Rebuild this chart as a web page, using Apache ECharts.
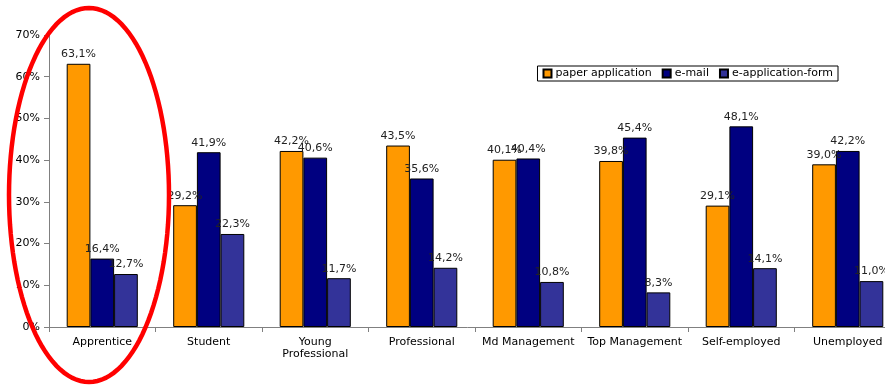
<!DOCTYPE html>
<html><head><meta charset="utf-8">
<script src="https://cdn.jsdelivr.net/npm/echarts@6/dist/echarts.min.js"></script>
<style>html,body{margin:0;padding:0;background:#fff}#c{width:885px;height:387px}</style>
</head><body><div id="c"></div>
<script>
const categories = ['Apprentice','Student','Young\nProfessional','Professional','Md Management','Top Management','Self-employed','Unemployed'];
const seriesNames = ['paper application','e-mail','e-application-form'];
const paper = [63.1, 29.2, 42.2, 43.5, 40.1, 39.8, 29.1, 39.0];
const email = [16.4, 41.9, 40.6, 35.6, 40.4, 45.4, 48.1, 42.2];
const eform = [12.7, 22.3, 11.7, 14.2, 10.8, 8.3, 14.1, 11.0];
const yTicks = [0, 10, 20, 30, 40, 50, 60, 70];
const colors = ['#FF9900', '#000080', '#333399'];

const font = 'DejaVu Sans, Verdana, sans-serif';
const chart = echarts.init(document.getElementById('c'));
function fmt(v){ return v.toFixed(1).replace('.', ',') + '%'; }

// annotation ellipse points
const ell = [];
for (let i = 0; i < 120; i++) {
  const t = i / 120 * Math.PI * 2;
  ell.push([89 + 80 * Math.cos(t), 195 + 187 * Math.sin(t)]);
}

const mk = (name, data, color) => ({
  name, type: 'bar', data,
  barWidth: 23.7, barGap: '0%',
  itemStyle: { color, borderColor: '#000', borderWidth: 1 },
  label: { show: true, position: 'top', distance: 4, color: '#222', fontFamily: font, fontSize: 11,
           formatter: p => fmt(p.value) },
  emphasis: { disabled: true }
});

chart.setOption({
  animation: false,
  backgroundColor: '#fff',
  textStyle: { fontFamily: font },
  legend: {
    right: 47, top: 66, itemWidth: 8, itemHeight: 8, itemGap: 10,
    borderColor: '#000', borderWidth: 1, padding: [2, 5, 2, 5],
    textStyle: { fontFamily: font, fontSize: 11, color: '#000', padding: [0, 0, 0, -1] },
    data: seriesNames, icon: 'rect'
  },
  grid: { left: 49, top: 35, bottom: 60, right: -16, containLabel: false, outerBoundsMode: 'none' },
  xAxis: {
    type: 'category', data: categories,
    axisLine: { lineStyle: { color: '#808080', width: 1 } },
    axisTick: { show: true, length: 5, lineStyle: { color: '#808080' } },
    axisLabel: { color: '#000', fontFamily: font, fontSize: 11, margin: 9, interval: 0, lineHeight: 12 }
  },
  yAxis: {
    type: 'value', min: yTicks[0], max: yTicks[yTicks.length - 1], interval: 10,
    axisLine: { show: true, lineStyle: { color: '#808080', width: 1 } },
    axisTick: { show: true, length: 5, lineStyle: { color: '#808080' } },
    splitLine: { show: false },
    axisLabel: { color: '#000', fontFamily: font, fontSize: 11, margin: 9, formatter: '{value}%' }
  },
  series: [mk(seriesNames[0], paper, colors[0]), mk(seriesNames[1], email, colors[1]), mk(seriesNames[2], eform, colors[2])],
  graphic: [{
    type: 'polygon', shape: { points: ell, smooth: 0 }, z: 100, silent: true,
    style: { fill: 'none', stroke: '#FF0000', lineWidth: 4.5 }
  }]
});
</script></body></html>
